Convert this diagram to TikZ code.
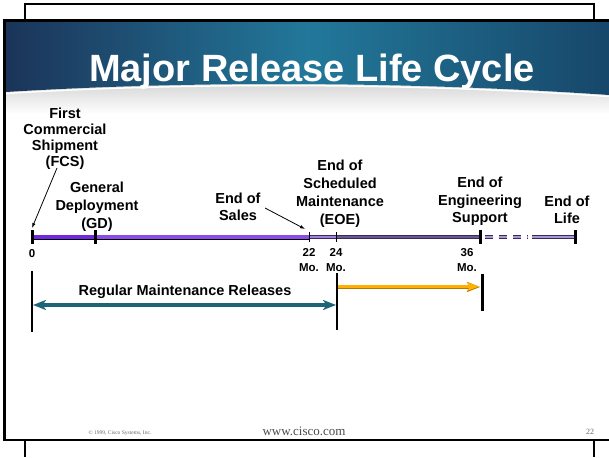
\documentclass[tikz,border=0pt]{standalone}
\usepackage{fontspec}
\setmainfont{Liberation Sans}
\newfontfamily\footserif{Liberation Serif}
\usetikzlibrary{arrows.meta,calc}
\definecolor{navyL}{HTML}{1B3459}
\definecolor{tealM}{HTML}{22789A}
\definecolor{navyR}{HTML}{17476A}
\definecolor{purA}{HTML}{7028E0}
\definecolor{purB}{HTML}{8C4CE6}
\definecolor{purC}{HTML}{A080E0}
\definecolor{purD}{HTML}{6A5890}
\definecolor{purE}{HTML}{A898D8}
\definecolor{purEdge}{HTML}{3A2A5A}
\definecolor{tealArrow}{HTML}{1C6478}
\definecolor{orangeArrow}{HTML}{FFB000}
\tikzset{
  lbl/.style={font=\fontsize{14.5}{#1}\selectfont\bfseries, align=center, inner sep=0pt},
  lbl/.default=17,
  numlbl/.style={font=\fontsize{11.5}{14.5}\selectfont\bfseries, align=center, inner sep=0pt},
  titletext/.style={font=\fontsize{38}{40}\selectfont\bfseries, text=white, inner sep=0pt},
  bigtick/.style={line width=3pt},
  smalltick/.style={line width=1pt},
  pointer/.style={line width=0.8pt, -{Latex[length=5pt,width=3.5pt]}},
  foot/.style={font=\footserif, text=black!60, inner sep=0pt},
}
\begin{document}
\begin{tikzpicture}[x=1pt,y=-1pt]
\useasboundingbox (0,0) rectangle (609,457);
\fill[white] (0,0) rectangle (609,457);

% outer frame pieces
\draw[line width=2pt] (25,21) -- (25,4) -- (594,4) -- (594,21);
\draw[line width=2.5pt] (25,440) -- (25,457);
\draw[line width=2.5pt] (594,440) -- (594,457);

% banner
\shade[top color=gray!35, bottom color=white] (6,92) .. controls (200,80) and (420,82) .. (609,95) -- (609,114) -- (6,114) -- cycle;
\shade[left color=navyL, right color=navyR, middle color=tealM] (6,21) -- (609,21) -- (609,95) .. controls (420,82) and (200,80) .. (6,92) -- cycle;
\draw[white, line width=1.5pt] (6,93.5) .. controls (200,81.5) and (420,83.5) .. (609,96.5);

% slide border
\draw[line width=2.8pt] (609,20.5) -- (4.7,20.5) -- (4.7,440) -- (609,440);

% title
\node[titletext, anchor=base] (title) at (312,82) {Major Release Life Cycle};

% timeline coordinates
\coordinate (t0) at (32,237);
\coordinate (tGD) at (95,237);
\coordinate (t22) at (309,237);
\coordinate (t24) at (336,237);
\coordinate (t36) at (480,237);
\coordinate (tDash) at (485,237);
\coordinate (tDashEnd) at (528,237);
\coordinate (tSolid) at (532,237);
\coordinate (tEnd) at (575,237);

% segments
\draw[line width=5pt] (t0) -- (t22);
\draw[purA, line width=3.6pt] (t0) -- (tGD);
\draw[purB, line width=3.6pt] (tGD) -- (t22);
\draw[purEdge, line width=3.6pt] (t22) -- (t36);
\draw[purC, line width=2.2pt] (t22) -- (t24);
\draw[purD, line width=2pt] (t24) -- (t36);
\draw[purEdge, line width=3.6pt, dash pattern=on 8pt off 6pt] (tDash) -- (tDashEnd);
\draw[purE, line width=2.2pt, dash pattern=on 8pt off 6pt] (tDash) -- (tDashEnd);
\draw[purEdge, line width=3.6pt] (tSolid) -- (tEnd);
\draw[purE, line width=2.2pt] (tSolid) -- (tEnd);

% ticks
\draw[bigtick] ($(t0)+(0,-7)$) -- ($(t0)+(0,7)$);
\draw[bigtick] ($(tGD)+(0,-7)$) -- ($(tGD)+(0,7)$);
\draw[smalltick] ($(t22)+(0,-5)$) -- ($(t22)+(0,5)$);
\draw[smalltick] ($(t24)+(0,-5)$) -- ($(t24)+(0,5)$);
\draw[bigtick] ($(t36)+(0,-7)$) -- ($(t36)+(0,7)$);
\draw[bigtick] ($(tEnd)+(0,-7)$) -- ($(tEnd)+(0,7)$);

% labels above
\node[lbl=16.1] (fcs) at (65,138.5) {First\\Commercial\\Shipment\\(FCS)};
\node[lbl=17.8] (gd) at (97,207) {General\\Deployment\\(GD)};
\node[lbl=17] (sales) at (238,206.5) {End of\\Sales};
\node[lbl=18] (eoe) at (340,194) {End of\\Scheduled\\Maintenance\\(EOE)};
\node[lbl=17.5] (ees) at (480,201.5) {End of\\Engineering\\Support};
\node[lbl=17] (eol) at (567,209.5) {End of\\Life};

% pointers
\coordinate (fcsTail) at (57,168);
\coordinate (fcsHead) at (32,228);
\draw[pointer] (fcsTail) -- (fcsHead);
\coordinate (salesTail) at (265,208);
\coordinate (salesHead) at (305,229);
\draw[pointer] (salesTail) -- (salesHead);

% numbers
\node[numlbl] (n0) at (32,254) {0};
\node[numlbl] (n22) at (309,260) {22\\Mo.};
\node[numlbl] (n24) at (336,260) {24\\Mo.};
\node[numlbl] (n36) at (467,260) {36\\Mo.};

% lower part
\coordinate (v0a) at (32,271);
\coordinate (v0b) at (32,332);
\coordinate (v24a) at (337,273);
\coordinate (v24b) at (337,330);
\coordinate (v36a) at (482,274);
\coordinate (v36b) at (482,311);
\draw[line width=2.2pt] (v0a) -- (v0b);
\draw[line width=1.2pt] (v24a) -- (v24b);
\draw[line width=3pt] (v36a) -- (v36b);

\coordinate (orS) at (338,287);
\coordinate (orE) at (480,287);
\draw[orangeArrow!70!black, line width=4.2pt, -{Stealth[length=13pt,width=10pt,inset=3pt]}] (orS) -- (orE);
\draw[orangeArrow, line width=2.8pt, -{Stealth[length=12pt,width=8.5pt,inset=3pt]}] ($(orS)+(0,-0.4)$) -- ($(orE)+(-1,-0.4)$);

\coordinate (tlS) at (33,305);
\coordinate (tlE) at (336,305);
\draw[tealArrow, line width=3.8pt, {Stealth[length=13pt,width=10pt,inset=3.5pt]}-{Stealth[length=13pt,width=10pt,inset=3.5pt]}] (tlS) -- (tlE);

\node[lbl] (rmr) at (185,292) {Regular Maintenance Releases};

% footer
\node[foot, font=\footserif\fontsize{5.5}{6}\selectfont] (copy) at (120,433) {\textcopyright{} 1999, Cisco Systems, Inc.};
\node[foot, font=\footserif\fontsize{13}{14}\selectfont, text=black!70] (www) at (304,431) {www.cisco.com};
\node[foot, font=\footserif\fontsize{8}{9}\selectfont] (pg) at (590,432) {22};
\end{tikzpicture}
\end{document}
